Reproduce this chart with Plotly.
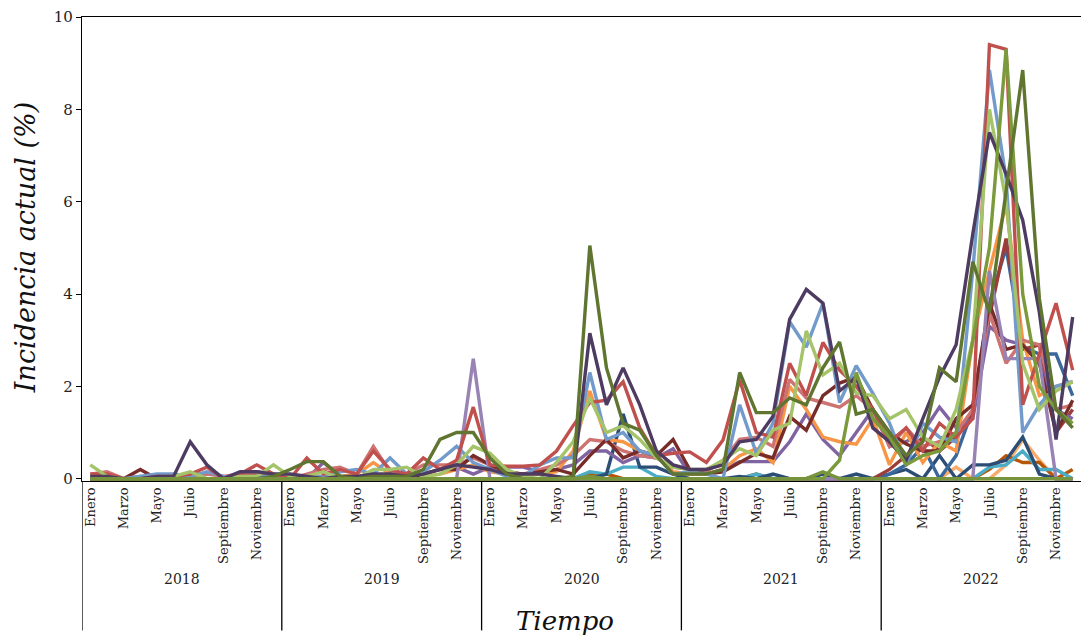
import plotly.graph_objects as go

years = ["2018", "2019", "2020", "2021", "2022"]
months = ["Enero", "Febrero", "Marzo", "Abril", "Mayo", "Junio", "Julio",
          "Agosto", "Septiembre", "Octubre", "Noviembre", "Diciembre"]

dark_purple = [0.05,0.05,0.0,0.0,0.05,0.05,0.8,0.3,0.0,0.15,0.15,0.1,
               0.1,0.05,0.0,0.05,0.05,0.1,0.1,0.05,0.1,0.2,0.3,0.25,
               0.2,0.1,0.1,0.1,0.05,0.0,3.15,1.6,2.4,1.6,0.6,0.3,
               0.2,0.2,0.3,0.8,0.85,1.35,3.45,4.1,3.8,1.9,2.2,1.1,
               0.8,0.4,1.3,2.2,2.9,5.3,7.5,6.6,5.6,3.6,0.85,3.5]
red = [0.1,0.1,0.0,0.0,0.05,0.05,0.1,0.25,0.0,0.1,0.3,0.1,
       0.0,0.45,0.1,0.2,0.1,0.6,0.2,0.1,0.45,0.2,0.4,1.55,
       0.3,0.27,0.27,0.3,0.6,1.15,1.65,1.7,2.1,1.1,0.5,0.55,
       0.58,0.35,0.84,2.14,1.0,0.9,2.5,1.8,2.95,2.35,2.0,1.5,
       0.8,1.1,0.6,1.2,0.9,1.3,9.4,9.3,1.6,2.7,3.8,2.35]
dark_olive = [0,0,0,0,0,0,0,0,0,0,0,0.05,
              0.2,0.37,0.37,0.05,0.0,0.05,0.05,0.05,0.2,0.85,1.0,1.0,
              0.45,0.1,0.0,0.0,0.0,0.05,5.05,2.4,1.2,1.05,0.5,0.1,
              0.1,0.1,0.2,2.3,1.43,1.43,1.75,1.6,2.4,2.96,1.4,1.5,
              1.0,0.5,0.8,2.4,2.1,4.7,3.6,6.2,8.85,3.9,1.5,1.1]
green = [0.3,0.05,0.0,0.0,0.0,0.05,0.15,0.0,0.0,0.05,0.05,0.3,
         0.05,0.05,0.15,0.0,0.0,0.2,0.2,0.25,0.05,0.1,0.3,0.7,
         0.55,0.2,0.05,0.0,0.35,0.8,1.75,1.0,1.15,0.85,0.45,0.25,
         0.2,0.2,0.4,0.65,0.5,1.05,1.2,3.2,2.25,2.5,1.85,1.8,
         1.3,1.5,0.9,0.7,1.5,3.0,8.0,6.0,2.5,1.5,1.9,2.1]
mid_green = [0,0,0,0,0,0,0,0,0,0,0,0,
             0,0,0,0,0,0,0,0,0,0,0,0,
             0,0,0,0,0,0,0,0,0,0,0,0,
             0,0,0,0,0,0,0,0,0,0.4,2.3,1.3,
             0.9,0.3,0.5,0.6,1.0,3.0,5.0,9.3,4.0,2.0,1.5,1.2]
lilac = [0,0,0,0,0,0,0,0,0,0,0,0,
         0,0,0,0,0,0,0,0,0,0,0,2.6,
         0,0,0,0,0,0,0,0,0,0,0,0,
         0,0,0,0,0,0,0,0,0,0,0,0,
         0,0,0,0,0,0,4.5,2.6,2.6,2.6,0,0]
purple = [0.05,0.0,0.0,0.0,0.0,0.0,0.0,0.0,0.0,0.1,0.15,0.1,
          0.0,0.0,0.35,0.05,0.0,0.0,0.0,0.0,0.1,0.2,0.25,0.1,
          0.25,0.25,0.25,0.15,0.2,0.3,0.6,0.6,0.35,0.5,0.45,0.65,
          0.1,0.1,0.2,0.37,0.37,0.37,0.8,1.4,0.85,0.5,1.0,1.5,
          0.7,0.8,1.0,1.55,1.1,1.3,3.3,3.0,2.9,2.5,1.5,1.3]
light_blue = [0.05,0.0,0.0,0.05,0.1,0.1,0.05,0.15,0.05,0.0,0.05,0.05,
              0.0,0.05,0.05,0.15,0.2,0.1,0.45,0.1,0.15,0.4,0.7,0.35,
              0.2,0.05,0.05,0.3,0.45,0.45,2.3,0.85,1.0,0.6,0.5,0.1,
              0.15,0.1,0.0,1.6,0.55,1.2,3.4,2.85,3.8,1.65,2.45,1.85,
              1.2,0.3,1.2,0.9,0.8,4.5,8.85,6.5,1.0,1.6,2.0,2.1]
salmon = [0.1,0.15,0.0,0.05,0.0,0.05,0.05,0.1,0.05,0.1,0.1,0.05,
          0.0,0.1,0.2,0.25,0.1,0.7,0.15,0.1,0.3,0.3,0.3,0.45,
          0.3,0.15,0.1,0.2,0.3,0.5,0.85,0.8,0.6,0.5,0.45,0.25,
          0.2,0.15,0.4,0.85,0.9,0.7,2.15,1.75,1.65,1.55,1.8,1.5,
          0.7,1.1,0.7,0.8,1.0,1.5,3.6,2.5,3.0,2.9,1.5,1.6]
dark_red = [0.0,0.0,0.0,0.2,0.0,0.0,0.0,0.0,0.0,0.05,0.05,0.05,
            0.0,0.0,0.0,0.05,0.0,0.05,0.05,0.0,0.1,0.2,0.2,0.5,
            0.3,0.15,0.1,0.15,0.2,0.1,0.5,0.85,0.45,0.6,0.5,0.85,
            0.2,0.1,0.15,0.35,0.55,0.45,1.35,1.05,1.8,2.07,2.2,1.5,
            1.0,0.75,0.6,0.6,1.3,1.6,3.8,2.8,2.9,2.5,1.0,1.7]
orange = [0.0,0.0,0.0,0.05,0.0,0.0,0.0,0.0,0.0,0.0,0.0,0.0,
          0.0,0.0,0.0,0.05,0.1,0.35,0.1,0.05,0.05,0.1,0.2,0.3,
          0.15,0.1,0.1,0.1,0.15,0.6,1.9,0.85,0.8,0.6,0.5,0.15,
          0.1,0.1,0.2,0.5,0.65,0.35,2.0,1.5,0.9,0.8,0.75,1.3,
          0.3,1.0,0.35,0.8,0.6,3.0,4.5,5.95,3.0,1.8,2.0,2.1]
light_orange = [0,0,0,0,0,0,0,0,0,0,0,0,
                0,0,0,0,0,0,0,0,0,0,0,0,
                0,0,0,0,0,0,0,0,0,0,0,0,
                0,0,0,0,0,0,0,0,0,0,0,0,
                0,0,0,0,0.25,0,0,0.3,0.85,0.4,0,0]
dark_orange = [0,0,0,0,0,0,0,0,0,0,0,0,
               0,0,0,0,0,0,0,0,0,0,0,0,
               0,0,0,0,0,0,0.1,0.1,0,0,0,0,
               0,0,0,0,0.1,0,0,0,0,0,0,0,
               0,0,0,0,0,0,0.2,0.5,0.35,0.35,0,0.2]
aqua = [0,0,0,0,0,0,0,0,0,0,0,0,
        0,0,0,0,0,0,0,0,0,0,0,0,
        0,0,0,0,0,0,0.15,0.1,0.25,0.25,0.05,0,
        0,0,0,0,0.1,0,0,0,0,0,0,0,
        0,0,0,0,0,0,0.25,0.3,0.6,0.2,0.2,0]
dark_blue = [0,0,0,0,0,0,0,0,0,0,0,0,
             0,0,0,0,0,0,0,0,0,0,0,0,
             0,0,0,0,0,0,0,0.1,1.4,0.25,0.25,0.1,
             0,0,0,0.05,0,0.1,0,0,0.1,0,0.1,0,
             0.1,0.2,0.0,0.5,0.0,0.3,0.3,0.4,0.9,0.1,0,0]
mid_blue = [0,0,0,0,0,0,0,0,0,0,0,0,
            0,0,0,0,0,0,0,0,0,0,0,0,
            0,0,0,0,0,0,0,0,0,0,0,0,
            0,0,0,0,0,0,0,0,0,0,0,0,
            0.1,0.3,0.7,0.0,0.5,1.5,3.8,5.0,2.85,2.7,2.7,1.8]
brick = [0,0,0,0,0,0,0,0,0,0,0,0,
         0,0,0,0,0,0,0,0,0,0,0,0,
         0,0,0,0,0,0,0,0,0,0,0,0,
         0,0,0,0,0,0,0,0,0,0,0,0,
         0.2,0.5,0.9,0.6,0.9,1.4,3.5,5.2,2.8,2.9,1.0,1.5]
baseline_green = [0,0,0,0,0,0,0,0,0,0,0,0,
                  0,0,0,0,0,0,0,0,0,0,0,0,
                  0,0,0,0,0,0,0.05,0,0,0,0,0,
                  0,0,0,0,0,0,0,0,0.15,0,0,0,
                  0,0,0,0,0,0,0,0,0,0,0,0]

series = [
    (light_orange, "#F9AB6B"), (dark_orange, "#B65708"), (aqua, "#4BACC6"),
    (dark_blue, "#2C4D75"), (mid_blue, "#3A679C"), (brick, "#9C3D3A"),
    (purple, "#8064A2"), (orange, "#F79646"), (salmon, "#CD7371"),
    (dark_red, "#772C2A"), (lilac, "#9983B5"), (light_blue, "#729ACA"),
    (red, "#C0504D"), (green, "#A5C46A"), (dark_purple, "#4D3B62"),
    (mid_green, "#7A9A3C"), (dark_olive, "#5F7530"), (baseline_green, "#77933C"),
]

x_idx = list(range(len(years) * len(months)))
FONT = "DejaVu Serif"

fig = go.Figure()
for vals, col in series:
    fig.add_trace(go.Scatter(x=x_idx, y=vals, mode="lines",
                             line=dict(color=col, width=3.4), showlegend=False,
                             hoverinfo="skip"))

tickvals = [i for i in x_idx if i % 2 == 0]
ticktext = [months[i % 12] for i in tickvals]

fig.update_layout(
    width=1081, height=641,
    margin=dict(l=82, r=0, t=17, b=160),
    plot_bgcolor="white", paper_bgcolor="white",
    font=dict(family=FONT, color="#222222"),
    xaxis=dict(range=[-0.5, 59.5], tickvals=tickvals, ticktext=ticktext,
               tickangle=-90, tickfont=dict(size=13, family=FONT),
               showgrid=False, zeroline=False, showline=True, mirror=True,
               linecolor="black", linewidth=1.3, ticks=""),
    yaxis=dict(range=[-0.05, 10], tickvals=[0, 2, 4, 6, 8, 10],
               tickfont=dict(size=15, family=FONT), showgrid=False,
               zeroline=False, showline=True, linecolor="black", linewidth=1.3,
               ticks="outside", ticklen=5, tickcolor="black"),
)

# year group separators and labels
for k, yr in enumerate(years):
    x0 = k * 12 - 0.5
    fig.add_shape(type="line", xref="x", yref="paper", x0=x0, x1=x0,
                  y0=0, y1=-0.322, line=dict(color="black", width=1.3))
    fig.add_annotation(x=k * 12 + 5.5, y=-0.212, xref="x", yref="paper",
                       text=yr, showarrow=False, font=dict(size=14, family=FONT),
                       yanchor="middle")

fig.add_annotation(x=0.4835, y=-0.302, xref="paper", yref="paper",
                   text="<i>Tiempo</i>", showarrow=False, yanchor="middle",
                   font=dict(size=26, family=FONT, color="#111111"))
fig.add_annotation(x=-0.057, y=0.502, xref="paper", yref="paper",
                   text="<i>Incidencia actual (%)</i>", showarrow=False,
                   textangle=-90, xanchor="center", yanchor="middle",
                   font=dict(size=27, family=FONT, color="#111111"))

fig.write_html("out.html", config={"displayModeBar": False},
               post_script="document.body.style.margin='0';document.body.style.overflow='hidden';")
